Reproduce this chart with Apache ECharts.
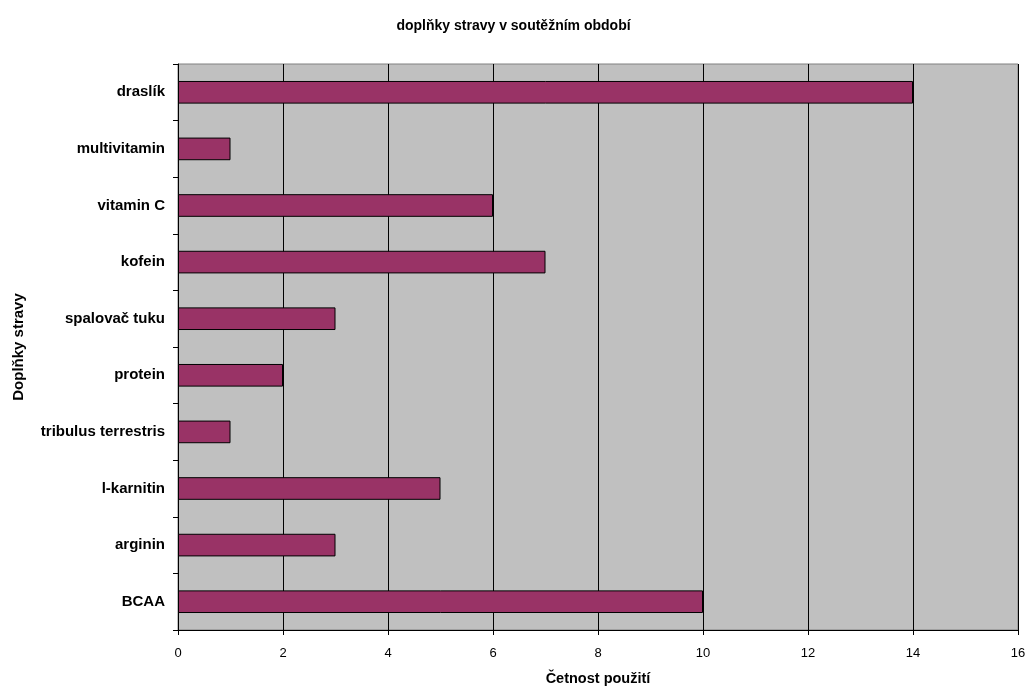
<!DOCTYPE html>
<html>
<head>
<meta charset="utf-8">
<script src="https://cdn.jsdelivr.net/npm/echarts@6/dist/echarts.min.js"></script>
<style>html,body{margin:0;padding:0;background:#fff;}#c{width:1027px;height:690px;}</style>
</head>
<body>
<div id="c"></div>
<script>
var categories = ["BCAA", "arginin", "l-karnitin", "tribulus terrestris", "protein", "spalovač tuku", "kofein", "vitamin C", "multivitamin", "draslík"];
var values = [10, 3, 5, 1, 2, 3, 7, 6, 1, 14];
var xTicks = [0, 2, 4, 6, 8, 10, 12, 14, 16];

var chart = echarts.init(document.getElementById('c'));
chart.setOption({
  animation: false,
  backgroundColor: '#ffffff',
  textStyle: { fontFamily: 'Liberation Sans, Arial, sans-serif' },
  title: {
    text: 'doplňky stravy v soutěžním období',
    left: 'center',
    top: 14,
    textStyle: { fontSize: 14, fontWeight: 'bold', color: '#000', fontFamily: 'Liberation Sans, Arial, sans-serif' }
  },
  grid: {
    left: 178, right: 9, top: 64, bottom: 60,
    outerBoundsMode: 'none', containLabel: false,
    show: true, backgroundColor: '#c0c0c0', borderColor: '#808080', borderWidth: 1
  },
  xAxis: {
    type: 'value', min: xTicks[0], max: xTicks[xTicks.length - 1], interval: 2,
    name: 'Četnost použití', nameLocation: 'middle', nameGap: 41,
    nameTextStyle: { fontSize: 14.5, fontWeight: 'bold', color: '#000' },
    axisLine: { show: true, lineStyle: { color: '#000', width: 1 } },
    axisTick: { show: true, length: 5, lineStyle: { color: '#000' } },
    axisLabel: { fontSize: 13, color: '#000', margin: 17 },
    splitLine: { show: true, lineStyle: { color: '#000', width: 1 } }
  },
  yAxis: {
    type: 'category', data: categories,
    name: 'Doplňky stravy', nameLocation: 'middle', nameGap: 152, nameRotate: 90,
    nameTextStyle: { fontSize: 15, fontWeight: 'bold', color: '#000' },
    axisLine: { show: true, lineStyle: { color: '#000', width: 1 } },
    axisTick: { show: true, length: 5, alignWithLabel: false, lineStyle: { color: '#000' } },
    axisLabel: { fontSize: 15, fontWeight: 'bold', color: '#000', margin: 13 },
    splitLine: { show: false }
  },
  series: [{
    type: 'bar', data: values, barWidth: '40%',
    itemStyle: { color: '#993366', borderColor: '#000', borderWidth: 1 }
  }]
});
</script>
</body>
</html>
